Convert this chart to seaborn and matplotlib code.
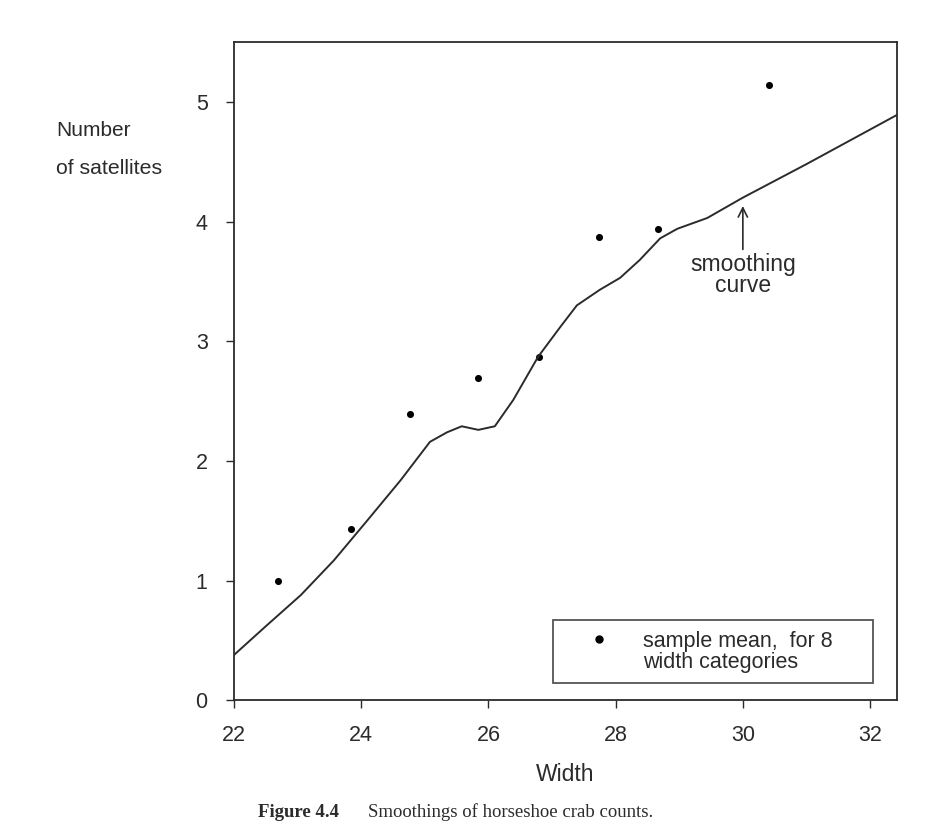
import matplotlib
matplotlib.use("Agg")
import matplotlib.pyplot as plt
from matplotlib.lines import Line2D
import seaborn as sns
import pandas as pd

# Sample means for 8 width categories
mean_width = [22.69, 23.84, 24.77, 25.84, 26.79, 27.74, 28.67, 30.41]
mean_sat = [1.00, 1.43, 2.39, 2.69, 2.87, 3.87, 3.94, 5.14]

# Smoothing curve
curve_x = [22.0, 22.5, 23.05, 23.57, 24.09, 24.62, 25.08, 25.35, 25.58, 25.84,
           26.1, 26.39, 26.78, 27.13, 27.39, 27.75, 28.07, 28.38, 28.70, 28.97,
           29.44, 30.0, 31.0, 32.42]
curve_y = [0.38, 0.62, 0.88, 1.17, 1.50, 1.84, 2.16, 2.24, 2.29, 2.26,
           2.29, 2.51, 2.87, 3.12, 3.30, 3.43, 3.53, 3.68, 3.86, 3.94,
           4.03, 4.20, 4.48, 4.89]

x_ticks = [22, 24, 26, 28, 30, 32]
y_ticks = [0, 1, 2, 3, 4, 5]
legend_lines = ["sample mean,  for 8", "width categories"]

sns.set_theme(style="ticks")
plt.rcParams['font.family'] = ['Liberation Sans', 'DejaVu Sans']

ink = "#2b2b2b"
fig = plt.figure(figsize=(9.4, 8.24), dpi=100)
ax = fig.add_axes([0.249, 0.150, 0.705, 0.799])

curve_df = pd.DataFrame({"x": curve_x, "y": curve_y})
means_df = pd.DataFrame({"x": mean_width, "y": mean_sat})

sns.lineplot(data=curve_df, x="x", y="y", ax=ax, color=ink, linewidth=1.4,
             sort=False, estimator=None)
sns.scatterplot(data=means_df, x="x", y="y", ax=ax, color="black", s=26,
                edgecolor="black", linewidth=0)

ax.set_xlim(22, 32.42)
ax.set_ylim(0, 5.5)
ax.set_xticks(x_ticks)
ax.set_yticks(y_ticks)
ax.tick_params(axis="both", direction="out", length=6, width=1, color=ink,
               labelsize=15.5, labelcolor=ink)
ax.tick_params(axis="x", pad=12)
ax.tick_params(axis="y", pad=13)
for sp in ax.spines.values():
    sp.set_visible(True)
    sp.set_color(ink)
    sp.set_linewidth(1.3)

ax.set_xlabel("Width", fontsize=16.5, color=ink, labelpad=12)
ax.set_ylabel("")
fig.text(56 / 940, 1 - 130 / 824, "Number", fontsize=15, color=ink,
         ha="left", va="center")
fig.text(56 / 940, 1 - 168 / 824, "of satellites", fontsize=15.3, color=ink,
         ha="left", va="center")

# annotation for smoothing curve
ax.annotate("smoothing\ncurve", xy=(30.0, 4.13), xytext=(30.0, 3.74),
            ha="center", va="top", fontsize=16.5, color=ink, linespacing=0.92,
            arrowprops=dict(arrowstyle="->", color=ink, lw=1.2,
                            shrinkA=0, shrinkB=0))

dot = Line2D([], [], linestyle="none", marker="o", markersize=5, color="black")
blank = Line2D([], [], linestyle="none", marker=None)
leg = ax.legend([dot, blank], legend_lines,
                loc="lower left", bbox_to_anchor=(0.481, 0.026, 0.483, 0.096),
                mode="expand", borderaxespad=0, frameon=True, fancybox=False,
                fontsize=15.5, handlelength=3.26, handletextpad=0.42,
                borderpad=0.5, labelspacing=0.0)
leg.get_frame().set_edgecolor(ink)
leg.get_frame().set_linewidth(1.3)
for t in leg.get_texts():
    t.set_color(ink)

fig.text(258 / 940, 0.008, "Figure 4.4", fontsize=13.5, fontweight="bold",
         family=["Liberation Serif"], color=ink, ha="left", va="baseline")
fig.text(368 / 940, 0.008, "Smoothings of horseshoe crab counts.", fontsize=13.5,
         family=["Liberation Serif"], color=ink, ha="left", va="baseline")

fig.savefig("out.png", dpi=100, facecolor="white")
